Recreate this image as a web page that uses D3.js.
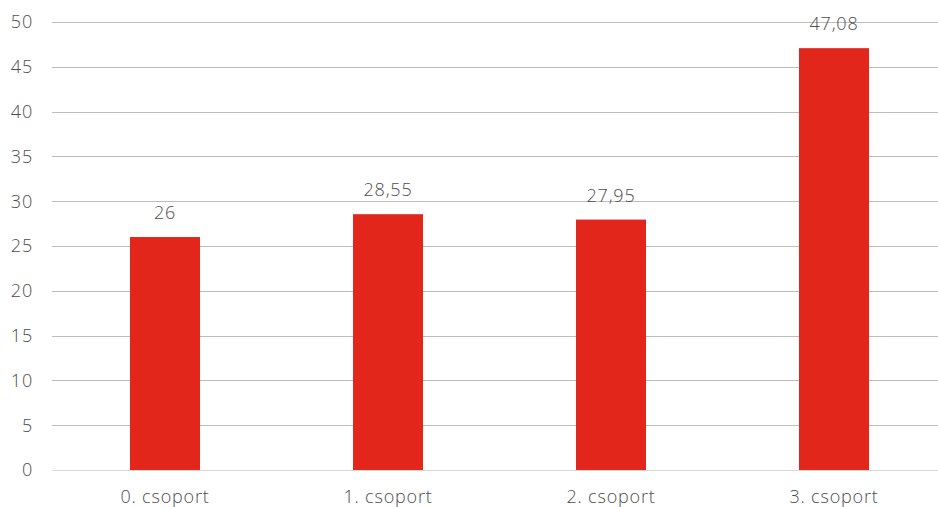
<!DOCTYPE html>
<html><head><meta charset="utf-8">
<script src="https://cdn.jsdelivr.net/npm/d3@7"></script>
<style>body{margin:0;background:#fff}svg{display:block}text{font-family:"Open Sans",Lato,sans-serif;font-weight:300;fill:#4d4d4d;letter-spacing:0.8px}</style>
</head><body><svg id="c" width="938" height="507"></svg>
<script>
const categories = ["0. csoport","1. csoport","2. csoport","3. csoport"];
const values = [26, 28.55, 27.95, 47.08];
const valueLabels = ["26","28,55","27,95","47,08"];
const yTicks = [0,5,10,15,20,25,30,35,40,45,50];

const svg = d3.select("#c");
const x = d3.scaleBand().domain(categories).range([53.5, 945.5]).paddingInner(0.686).paddingOuter(0.343);
const y = d3.scaleLinear().domain([0,50]).range([470, 22]);

const grid = svg.append("g");
grid.selectAll("line").data(yTicks).join("line")
  .attr("x1", 52).attr("x2", 938)
  .attr("y1", d => Math.round(y(d)) + 0.5).attr("y2", d => Math.round(y(d)) + 0.5)
  .attr("stroke", d => d === 0 ? "#d9d9d9" : "#bdbdbd").attr("stroke-width", 1);

svg.append("g").selectAll("text").data(yTicks).join("text")
  .attr("x", 33).attr("y", d => y(d)).attr("dy", "0.35em")
  .attr("text-anchor", "end").attr("font-size", 18).text(d => d);

svg.append("g").selectAll("rect").data(values).join("rect")
  .attr("x", (d,i) => x(categories[i])).attr("width", x.bandwidth())
  .attr("y", d => y(d)).attr("height", d => y(0) - y(d))
  .attr("fill", "#e2261c");

svg.append("g").selectAll("text").data(values).join("text")
  .attr("x", (d,i) => x(categories[i]) + x.bandwidth()/2)
  .attr("y", d => y(d) - 18)
  .attr("text-anchor", "middle").attr("font-size", 18).text((d,i) => valueLabels[i]);

svg.append("g").selectAll("text").data(categories).join("text")
  .attr("x", d => x(d) + x.bandwidth()/2).attr("y", 497).attr("dy", "0.35em")
  .attr("text-anchor", "middle").attr("font-size", 18).text(d => d);
</script></body></html>
